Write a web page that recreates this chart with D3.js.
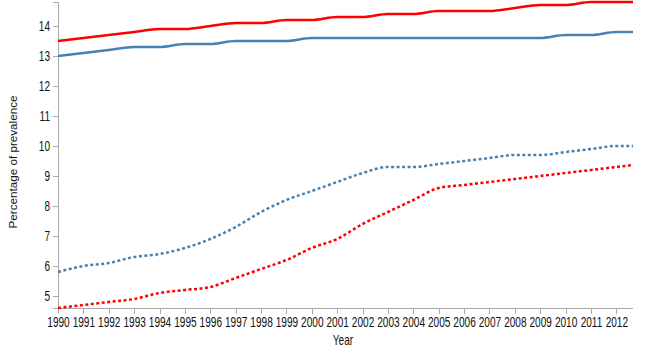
<!DOCTYPE html>
<html>
<head>
<meta charset="utf-8">
<script src="https://cdn.jsdelivr.net/npm/d3@7"></script>
<style>
  body { margin: 0; background: #fff; }
  svg { display: block; }
  .axis path, .axis line { stroke: #aaa; shape-rendering: crispEdges; }
  .axis text { font-family: "Liberation Sans", Arial, sans-serif; font-size: 14px; fill: #111; }
</style>
</head>
<body>
<script>
const years = [1990,1991,1992,1993,1994,1995,1996,1997,1998,1999,2000,2001,2002,2003,2004,2005,2006,2007,2008,2009,2010,2011,2012,2013];
const xTicks = [1990,1991,1992,1993,1994,1995,1996,1997,1998,1999,2000,2001,2002,2003,2004,2005,2006,2007,2008,2009,2010,2011,2012];
const redSolid  = [13.5,13.6,13.7,13.8,13.9,13.9,14.0,14.1,14.1,14.2,14.2,14.3,14.3,14.4,14.4,14.5,14.5,14.5,14.6,14.7,14.7,14.8,14.8,14.8];
const blueSolid = [13.0,13.1,13.2,13.3,13.3,13.4,13.4,13.5,13.5,13.5,13.6,13.6,13.6,13.6,13.6,13.6,13.6,13.6,13.6,13.6,13.7,13.7,13.8,13.8];
const blueDotted= [5.8,6.0,6.1,6.3,6.4,6.6,6.9,7.3,7.8,8.2,8.5,8.8,9.1,9.3,9.3,9.4,9.5,9.6,9.7,9.7,9.8,9.9,10.0,10.0];
const redDotted = [4.6,4.7,4.8,4.9,5.1,5.2,5.3,5.6,5.9,6.2,6.6,6.9,7.4,7.8,8.2,8.6,8.7,8.8,8.9,9.0,9.1,9.2,9.3,9.4];
const yTicks = [5,6,7,8,9,10,11,12,13,14];
const yLabel = "Percentage of prevalence";
const xLabel = "Year";

const series = [
  {values: redSolid, color: "#ff0000", dash: null},
  {values: blueSolid, color: "#4682b4", dash: null},
  {values: blueDotted, color: "#4682b4", dash: "3,2.5"},
  {values: redDotted, color: "#ff0000", dash: "3,2.5"}
];

(function () {
const W = 650, H = 350;
const sx = 0.72;
const svg = d3.select("body").append("svg").attr("width", W).attr("height", H);
svg.append("defs").append("clipPath").attr("id", "clip")
  .append("rect").attr("x", 0).attr("y", 0).attr("width", 633).attr("height", H);
const root = svg.append("g").attr("clip-path", "url(#clip)");

const mLeft = 58, mTop = 2, mBottom = 308;
const x = d3.scaleLinear().domain([1990, 2013]).range([mLeft, mLeft + 23 * 25.38]);
const allVals = series.flatMap(s => s.values);
const y = d3.scaleLinear().domain(d3.extent(allVals)).range([mBottom, mTop]);

root.append("g").attr("class", "axis")
  .attr("transform", `translate(0,${mBottom})`)
  .call(d3.axisBottom(x).tickValues(xTicks).tickFormat(d3.format("d")).tickSizeInner(6).tickSizeOuter(6).tickPadding(3))
  .selectAll("text")
  .attr("transform", `scale(${sx},1)`);

root.append("g").attr("class", "axis")
  .attr("transform", `translate(${mLeft},0)`)
  .call(d3.axisLeft(y).tickValues(yTicks).tickFormat(d3.format("d")).tickSizeInner(5).tickSizeOuter(5).tickPadding(3))
  .selectAll("text")
  .attr("x", 0)
  .attr("transform", `translate(-8,0) scale(${sx},1)`);

const line = d3.line().x((d, i) => x(years[i])).y(d => y(d)).curve(d3.curveMonotoneX);

series.forEach(s => {
  root.append("path")
    .datum(s.values)
    .attr("fill", "none")
    .attr("stroke", s.color)
    .attr("stroke-width", 2.5)
    .attr("stroke-dasharray", s.dash)
    .attr("d", line);
});

root.append("text")
  .attr("transform", `translate(17,${(mTop + mBottom) / 2 + 7}) rotate(-90)`)
  .attr("text-anchor", "middle")
  .style("font-family", "'Liberation Sans', Arial, sans-serif")
  .style("font-size", "11.5px")
  .style("fill", "#111")
  .attr("textLength", 133).attr("lengthAdjust", "spacingAndGlyphs")
  .text(yLabel);

root.append("text")
  .attr("transform", `translate(343,345) scale(${sx},1)`)
  .attr("text-anchor", "middle")
  .style("font-family", "'Liberation Sans', Arial, sans-serif")
  .style("font-size", "14px")
  .style("fill", "#111")
  .text(xLabel);
})();
</script>
</body>
</html>
